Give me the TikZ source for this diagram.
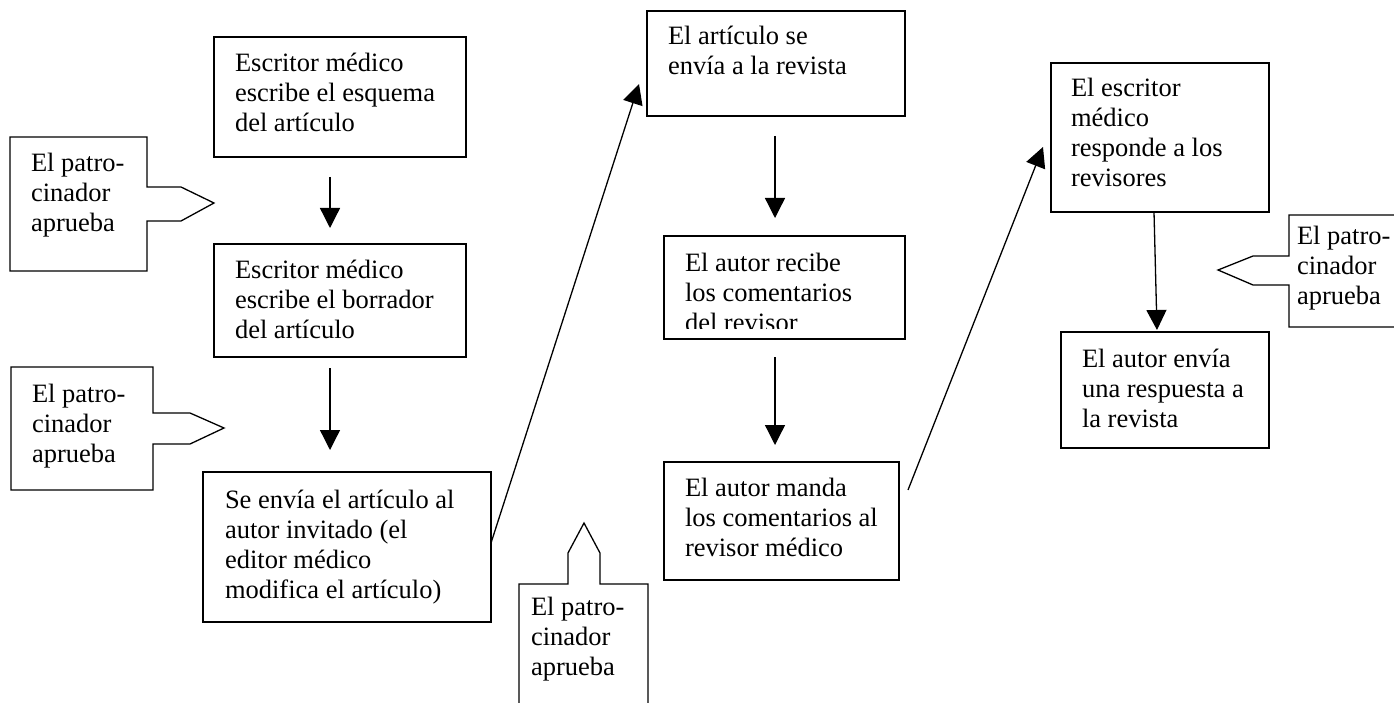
\documentclass[tikz,border=0pt]{standalone}
\usepackage{fontspec}
\setmainfont{Liberation Serif}
\usetikzlibrary{arrows.meta,calc}
% #1 width, #2 height, #3 left padding, #4 first baseline offset, #5 text
\newcommand\bt[5]{\parbox[t][#2pt][t]{#1pt}{\raggedright\leftskip=#3pt\relax\rule{0pt}{#4pt}#5}}
\tikzset{
  every node/.style={font=\fontsize{26.5}{30}\selectfont},
  box/.style={draw, line width=1.3pt, anchor=north west, inner sep=0pt, outer sep=0pt},
  tnode/.style={anchor=north west, inner sep=0pt, outer sep=0pt},
  arr/.style={line width=1.3pt, -{Triangle[width=20pt,length=20pt]}},
  callout/.style={draw, line width=1.3pt, line join=miter},
}
\begin{document}
\begin{tikzpicture}[x=1pt,y=-1pt]
\clip (0,0) rectangle (1394,703);
\fill[white] (0,0) rectangle (1394,703);

% main boxes
\node[box] (A) at (214,37) {\bt{252}{120}{21}{35}{Escritor médico\\escribe el esquema\\del artículo}};
\node[box] (B) at (214,244) {\bt{252}{113}{21}{34}{Escritor médico\\escribe el borrador\\del artículo}};
\node[box] (C) at (203,472) {\bt{288}{150}{22}{36}{Se envía el artículo al\\autor invitado (el\\editor médico\\modifica el artículo)}};
\node[box] (D) at (647,11) {\bt{258}{105}{21}{34}{El artículo se\\envía a la revista}};
\node[box, minimum width=241pt, minimum height=103pt] (E) at (664,236) {};
\begin{scope}
  \clip (664,236) rectangle (905,328);
  \node[tnode] (Et) at (664,236) {\bt{241}{103}{21}{36}{El autor recibe\\los comentarios\\del revisor}};
\end{scope}
\node[box] (F) at (664,462) {\bt{235}{118}{21}{34}{El autor manda\\los comentarios al\\revisor médico}};
\node[box] (G) at (1051,63) {\bt{218}{149}{20}{34}{El escritor\\médico\\responde a los\\revisores}};
\node[box] (H) at (1061,332) {\bt{208}{116}{21}{35}{El autor envía\\una respuesta a\\la revista}};

% callouts
\draw[callout] (10,137) -- (147,137) -- (147,187) -- (181,187) -- (214,203) -- (181,221) -- (147,221) -- (147,271) -- (10,271) -- cycle;
\node[tnode] (P1) at (10,137) {\bt{137}{134}{21}{35}{El patro-\\cinador\\aprueba}};
\draw[callout] (11,367) -- (153,367) -- (153,413) -- (190,413) -- (224,428) -- (190,444) -- (153,444) -- (153,490) -- (11,490) -- cycle;
\node[tnode] (P2) at (11,367) {\bt{142}{123}{21}{35}{El patro-\\cinador\\aprueba}};
\draw[callout] (519,720) -- (519,584) -- (568,584) -- (568,553) -- (584,523) -- (600,553) -- (600,584) -- (648,584) -- (648,720);
\node[tnode] (P3) at (519,584) {\bt{129}{119}{12}{31}{El patro-\\cinador\\aprueba}};
\draw[callout] (1400,215) -- (1289,215) -- (1289,256) -- (1253,256) -- (1218,270) -- (1253,285) -- (1289,285) -- (1289,327) -- (1400,327);
\node[tnode] (P4) at (1289,215) {\bt{105}{112}{8}{30}{El patro-\\cinador\\aprueba}};

% connectors
\draw[arr] ($(A.south west)+(116,20)$) -- ($(B.north west)+(116,-16)$);
\draw[arr] ($(B.south west)+(116,11)$) -- ($(C.north west)+(127,-22)$);
\draw[arr] ($(C.north east)+(0,71)$) -- ($(D.south west)+(-8,-32)$);
\draw[arr] ($(D.south west)+(128,20)$) -- ($(E.north west)+(111,-18)$);
\draw[arr] ($(E.south west)+(111,18)$) -- ($(F.north west)+(111,-17)$);
\draw[arr] ($(F.north east)+(9,28)$) -- ($(G.north west)+(-8,84)$);
\draw[arr] ($(G.south west)+(103,0)$) -- ($(H.north west)+(96,-2)$);
\end{tikzpicture}
\end{document}
